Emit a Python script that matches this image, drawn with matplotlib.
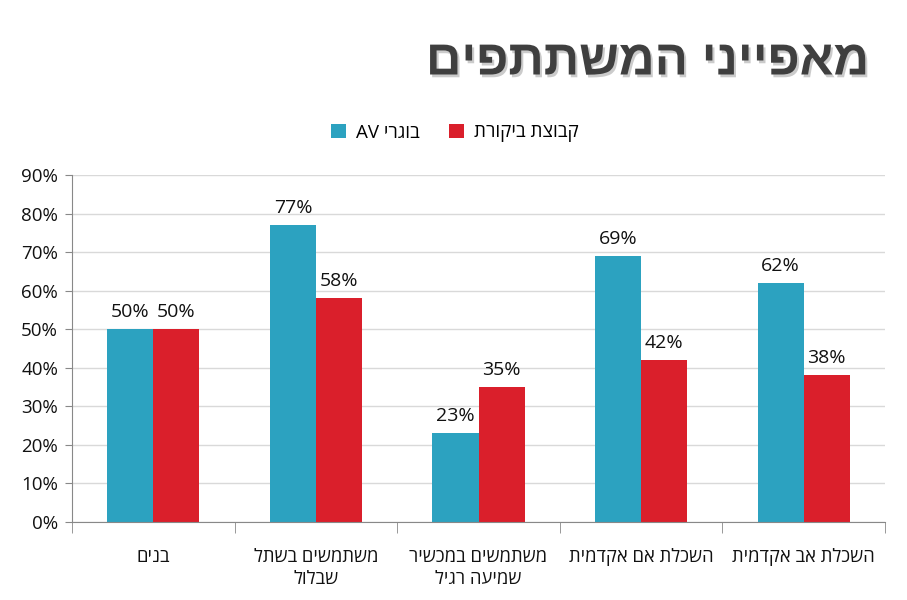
import matplotlib
matplotlib.use("Agg")
import matplotlib.pyplot as plt
import matplotlib.patheffects as pe
from matplotlib.ticker import FixedLocator, PercentFormatter
import numpy as np

plt.rcParams['font.family'] = ['Open Sans', 'DejaVu Sans']

title = "מאפייני המשתתפים"
categories = ["בנים", "משתמשים בשתל\nשבלול", "משתמשים במכשיר\nשמיעה רגיל",
              "השכלת אם אקדמית", "השכלת אב אקדמית"]
series_names = ["בוגרי AV", "קבוצת ביקורת"]
av_values = [50, 77, 23, 69, 62]
control_values = [50, 58, 35, 42, 38]
colors = ["#2ca2c0", "#da1f2b"]


def vis(s):
    """Convert logical RTL text to visual order line by line."""
    out = []
    for line in s.split("\n"):
        words = line.split(" ")
        vw = []
        for w in reversed(words):
            if any('\u0590' <= c <= '\u05ff' for c in w):
                vw.append(w[::-1])
            else:
                vw.append(w)
        out.append(" ".join(vw))
    return "\n".join(out)


fig = plt.figure(figsize=(9.07, 6.0), dpi=100)
ax = fig.add_axes([72 / 907, 78 / 600, 813 / 907, 347 / 600])

x = np.arange(len(categories))
w = 0.283
b1 = ax.bar(x - w / 2, av_values, w, color=colors[0], label=vis(series_names[0]), zorder=3)
b2 = ax.bar(x + w / 2, control_values, w, color=colors[1], label=vis(series_names[1]), zorder=3)

for bars, vals in ((b1, av_values), (b2, control_values)):
    for r, v in zip(bars, vals):
        ax.annotate(f"{v}%", (r.get_x() + r.get_width() / 2, v), xytext=(0, 6),
                    textcoords="offset points", ha="center", va="bottom",
                    fontsize=14, color="#111111")

ax.set_xlim(-0.5, len(categories) - 0.5)
ax.set_ylim(0, 90)
ax.yaxis.set_major_locator(FixedLocator(range(0, 91, 10)))
ax.yaxis.set_major_formatter(PercentFormatter(decimals=0))
ax.grid(axis="y", color="#d9d9d9", linewidth=1, zorder=0)
ax.tick_params(axis="y", length=5, color="#888888", labelsize=13.5, labelcolor="#111111", pad=5)

ax.set_xticks(x)
ax.set_xticklabels([vis(c) for c in categories], fontsize=13.2, color="#111111",
                   linespacing=1.25, va="top")
ax.tick_params(axis="x", which="major", length=0, pad=19)
ax.set_xticks(np.arange(-0.5, len(categories), 1), minor=True)
ax.tick_params(axis="x", which="minor", length=8, color="#888888")

for s in ("top", "right"):
    ax.spines[s].set_visible(False)
for s in ("left", "bottom"):
    ax.spines[s].set_color("#888888")
    ax.spines[s].set_zorder(4)

leg = fig.legend(loc="center", bbox_to_anchor=(455 / 907, 1 - 133 / 600), ncol=2,
                 frameon=False, fontsize=13.5, handlelength=0.8, handleheight=0.8,
                 handletextpad=0.5, columnspacing=1.6)

fig.text(868 / 907, 1 - 62 / 600, vis(title), ha="right", va="center",
         fontsize=35.5, fontweight="bold", color="#3f3f3f",
         family=["Liberation Sans", "DejaVu Sans"],
         path_effects=[pe.withSimplePatchShadow(offset=(1.5, -2), shadow_rgbFace="#999999", alpha=0.5)])

fig.savefig("out.png", dpi=100, facecolor="white")
